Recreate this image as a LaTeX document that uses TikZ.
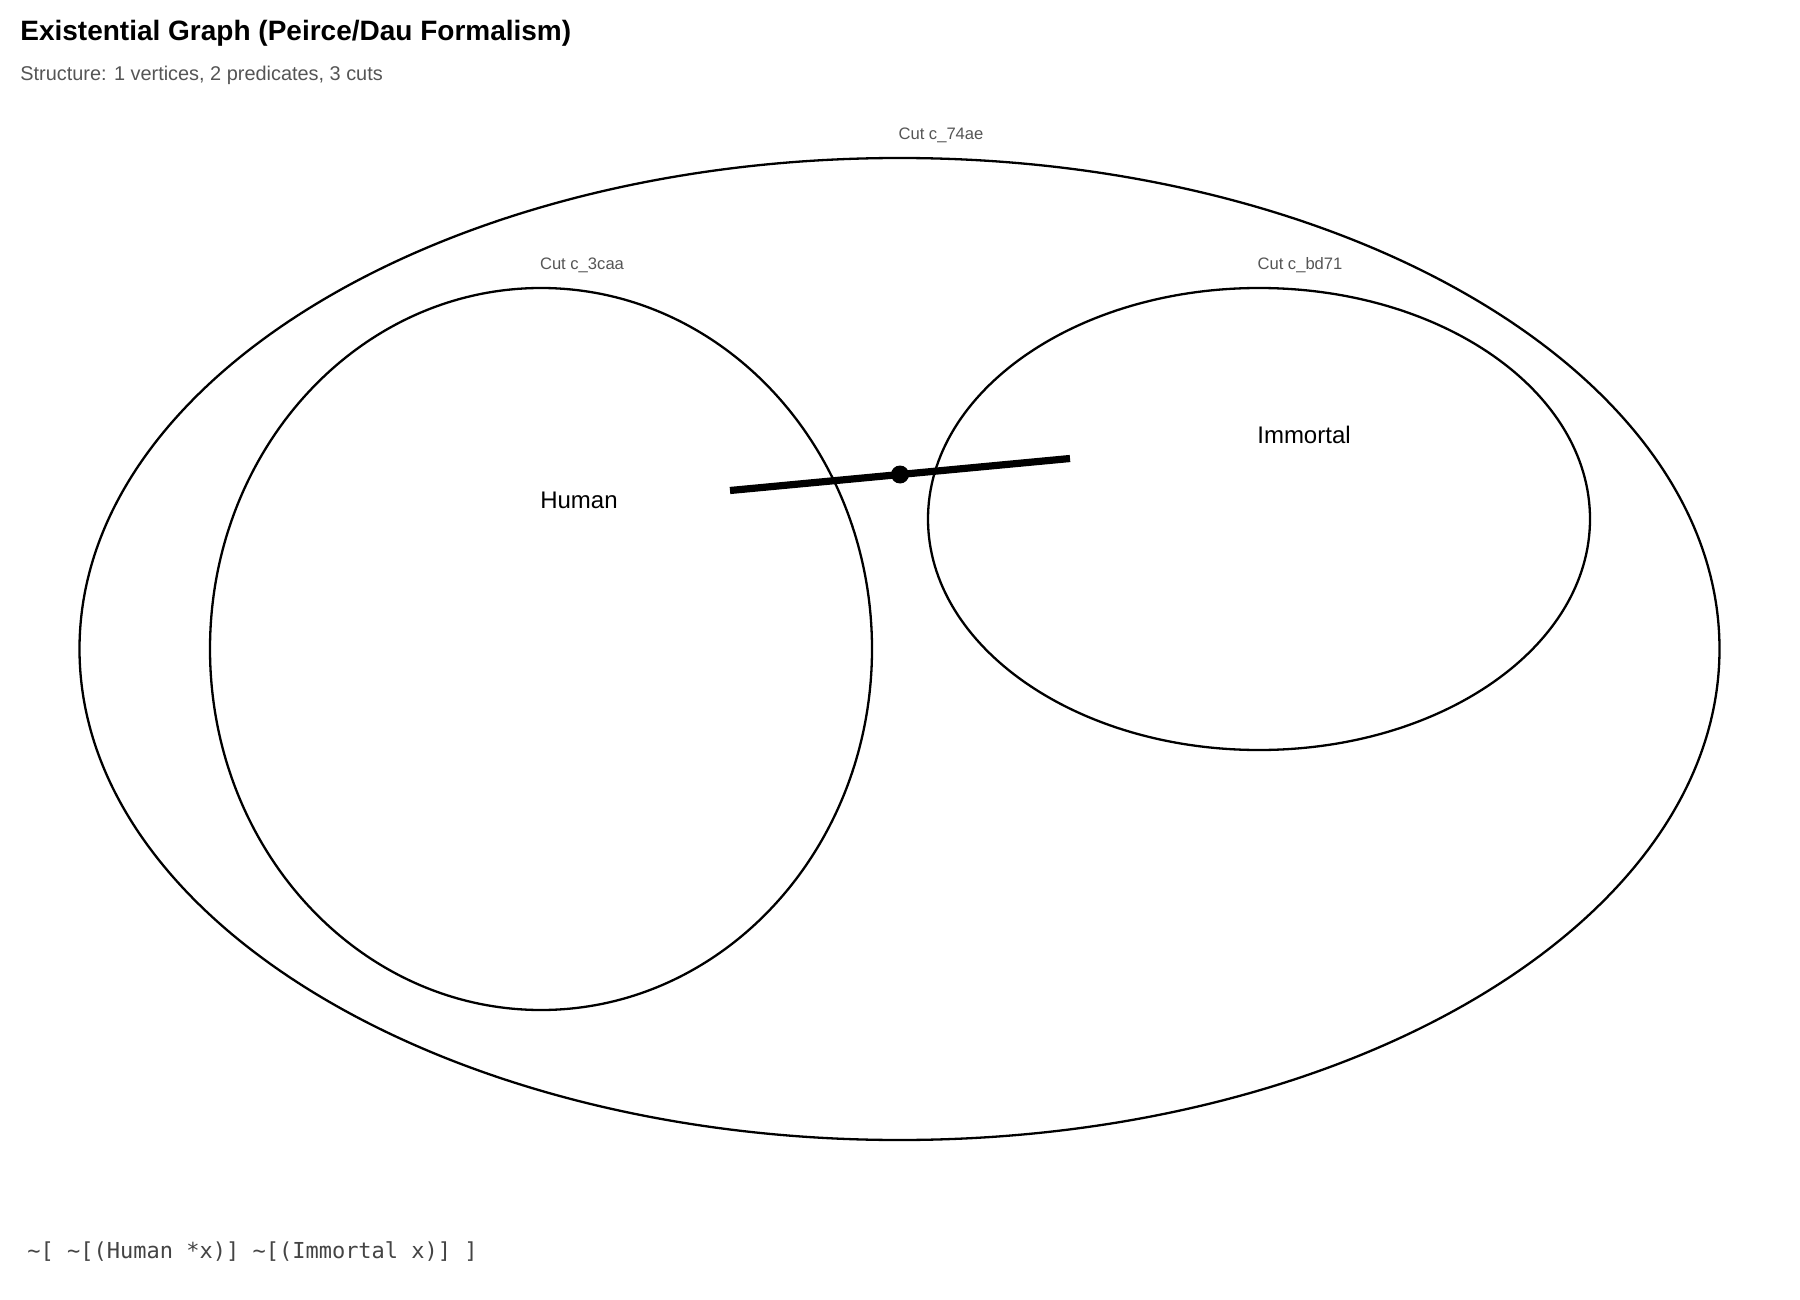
\documentclass[tikz,border=0pt]{standalone}
\usepackage{fontspec}
\setmainfont{Liberation Sans}
\setmonofont{DejaVu Sans Mono}
\usetikzlibrary{shapes.geometric}
\definecolor{subgray}{HTML}{555555}
\definecolor{cutgray}{HTML}{555555}
\definecolor{codegray}{HTML}{444444}
\tikzset{
  cut/.style={draw=black, line width=1.15pt, ellipse, inner sep=0pt, fill=none},
  cutlabel/.style={font=\fontsize{8.3}{10}\selectfont, text=cutgray, inner sep=0pt},
  pred/.style={font=\fontsize{12}{14}\selectfont, inner sep=0pt},
  ligature/.style={line width=3.6pt},
  vertexdot/.style={circle, fill=black, inner sep=0pt, minimum size=9pt},
}
\begin{document}
\begin{tikzpicture}[x=0.5pt,y=-0.5pt]
  \useasboundingbox (0,0) rectangle (1800,1300);
  % heading
  \node[anchor=west, inner sep=0pt, font=\bfseries\fontsize{14}{16}\selectfont] (title) at (20,33) {Existential Graph (Peirce/Dau Formalism)};
  \node[anchor=west, inner sep=0pt, text=subgray, font=\fontsize{9.95}{12}\selectfont] (subtitle) at (20,75) {Structure: 1 vertices, 2 predicates, 3 cuts};
  % cuts
  \node[cut, minimum width=820pt, minimum height=491pt] (c74ae) at (899.5,649) {};
  \node[cut, minimum width=331pt, minimum height=361pt] (c3caa) at (541,649) {};
  \node[cut, minimum width=331pt, minimum height=231pt] (cbd71) at (1259,519) {};
  \node[cutlabel] (l74ae) at (941,135) {Cut c\_74ae};
  \node[cutlabel] (l3caa) at (582,265) {Cut c\_3caa};
  \node[cutlabel] (lbd71) at (1300,265) {Cut c\_bd71};
  % predicates
  \node[pred] (human) at (579,500) {Human};
  \node[pred] (immortal) at (1304,435) {Immortal};
  % line of identity with its vertex
  \coordinate (hend) at (730,490.5);
  \coordinate (iend) at (1070,458.5);
  \draw[ligature] (hend) -- (iend);
  \node[vertexdot] (x) at (900,474.5) {};
  % linear form
  \node[anchor=west, inner sep=0pt, text=codegray, font=\ttfamily\fontsize{11}{13}\selectfont] (linear) at (27,1252) {\string~[ \string~[(Human *x)] \string~[(Immortal x)] ]};
\end{tikzpicture}
\end{document}
